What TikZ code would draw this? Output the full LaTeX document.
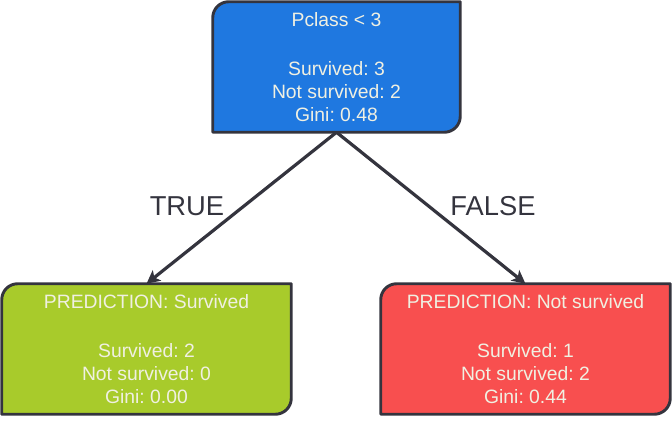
\documentclass[tikz,border=0pt]{standalone}
\usepackage{fontspec}
\setmainfont{Liberation Sans}
\usetikzlibrary{arrows.meta,backgrounds}
\frenchspacing

\definecolor{rootblue}{RGB}{31,120,224}
\definecolor{leafgreen}{RGB}{168,203,43}
\definecolor{leafred}{RGB}{248,79,79}
\definecolor{edgegray}{RGB}{52,52,62}
\definecolor{boxtext}{RGB}{240,240,226}

% box with two rounded corners (top left, bottom right) behind a node
\newcommand\splitbox[2]{%
	\filldraw[boxline, fill=#2] (#1.south west) -- ([yshift=-12pt]#1.north west)
		arc[start angle=180, end angle=90, radius=12pt] -- (#1.north east)
		-- ([yshift=12pt]#1.south east) arc[start angle=0, end angle=-90, radius=12pt] -- cycle;}

\begin{document}
\begin{tikzpicture}[x=0.75pt, y=0.75pt, >={Stealth[length=10pt, width=10pt, inset=2.5pt]},
	boxline/.style={draw=edgegray, line width=2.2pt, line join=round},
	tree/.style={rectangle, inner sep=0pt, minimum height=97.5pt, align=center, text=boxtext,
		font=\fontsize{14.5}{17.25}\selectfont},
	branch/.style={->, draw=edgegray, line width=2.4pt},
	answer/.style={text=edgegray, font=\fontsize{20.5}{24}\selectfont}]
	\useasboundingbox (0,0) rectangle (672,422);
	\node[tree, minimum width=185.25pt] (root) at (336.5,355) {Pclass < 3\\[19.5pt] Survived: 3\\ Not survived: 2\\ Gini: 0.48};
	\node[tree, minimum width=216.75pt] (yes) at (146.5,73) {PREDICTION: Survived\\[19.5pt] Survived: 2\\ Not survived: 0\\ Gini: 0.00};
	\node[tree, minimum width=216.75pt] (no) at (525.5,73) {PREDICTION: Not survived\\[19.5pt] Survived: 1\\ Not survived: 2\\ Gini: 0.44};
	\begin{scope}[on background layer]
		\splitbox{root}{rootblue}
		\splitbox{yes}{leafgreen}
		\splitbox{no}{leafred}
	\end{scope}
	\draw[branch] (root.south) -- (yes.north);
	\draw[branch] (root.south) -- (no.north);
	\node[answer] (t) at (187,216) {TRUE};
	\node[answer] (f) at (493,216) {FALSE};
\end{tikzpicture}
\end{document}
